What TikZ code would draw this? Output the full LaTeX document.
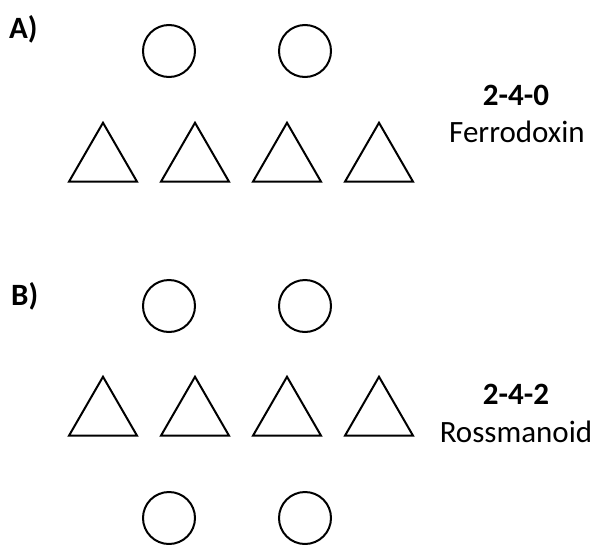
\documentclass[tikz,border=0pt]{standalone}
\usepackage{fontspec}
\setmainfont{Carlito}
\usetikzlibrary{shapes.geometric}
\begin{document}
\begin{tikzpicture}[x=1pt,y=-1pt,
  ring/.style={circle,draw,line width=2pt,minimum size=52pt,inner sep=0pt},
  tri/.style={regular polygon,regular polygon sides=3,draw,line width=2pt,minimum size=78.5pt,inner sep=0pt,outer sep=0pt},
  lbl/.style={font=\fontsize{31}{37}\selectfont,inner sep=0pt,anchor=base},
  tag/.style={font=\fontsize{31}{37}\selectfont\bfseries,inner sep=0pt,anchor=base west}]
\useasboundingbox (0,0) rectangle (600,544);
% A
\node[tag] (la) at (9,38) {A)};
\node[ring] (a1) at (169,51) {};
\node[ring] (a2) at (305,51) {};
\node[tri] (at1) at (103,162) {};
\node[tri] (at2) at (195,162) {};
\node[tri] (at3) at (287,162) {};
\node[tri] (at4) at (379,162) {};
\node[lbl,font=\fontsize{31}{37}\selectfont\bfseries] (ta1) at (516,105) {2-4-0};
\node[lbl] (ta2) at (517,142) {Ferrodoxin};
% B
\node[tag] (lb) at (11,305) {B)};
\node[ring] (b1) at (169,306) {};
\node[ring] (b2) at (305,306) {};
\node[tri] (bt1) at (103,416) {};
\node[tri] (bt2) at (195,416) {};
\node[tri] (bt3) at (287,416) {};
\node[tri] (bt4) at (379,416) {};
\node[ring] (b3) at (169,518) {};
\node[ring] (b4) at (305,518) {};
\node[lbl,font=\fontsize{31}{37}\selectfont\bfseries] (tb1) at (516,404) {2-4-2};
\node[lbl] (tb2) at (516,442) {Rossmanoid};
\end{tikzpicture}
\end{document}
